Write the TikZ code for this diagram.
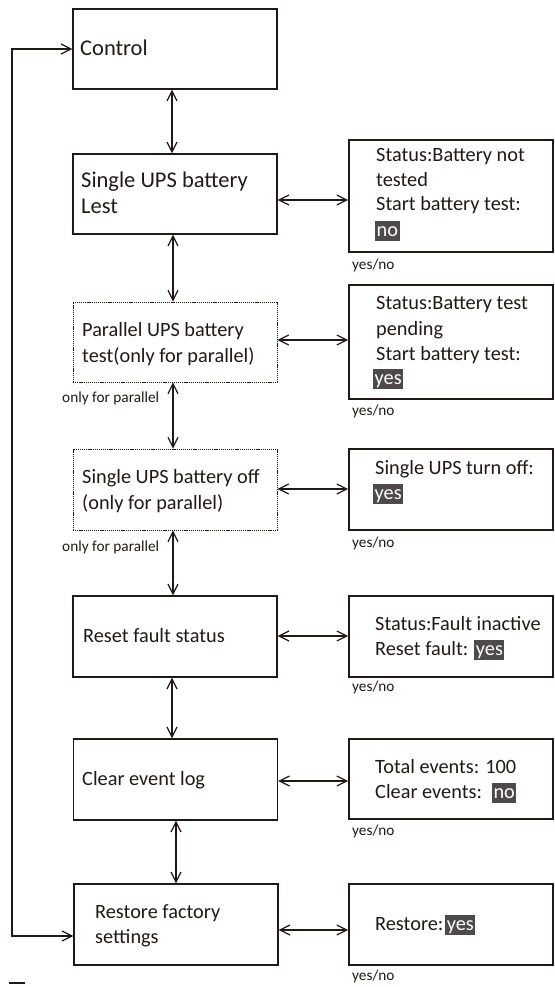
\documentclass[tikz,border=0pt]{standalone}
\usepackage{fontspec}
\setmainfont{Carlito}
\usetikzlibrary{arrows.meta}
\definecolor{lc}{RGB}{35,24,21}
\definecolor{hlg}{RGB}{77,74,73}
\newcommand\hlw[1]{{\setlength{\fboxsep}{0pt}\colorbox{hlg}{\rule[-5pt]{0pt}{20pt}\hspace{1.5pt}\textcolor{white}{#1}\hspace{1.5pt}}}}
\newcommand\bigfs{\fontsize{22.5}{27}\selectfont}
\newcommand\midfs{\fontsize{20.3}{24.8}\selectfont}
\newcommand\smallfs{\fontsize{15.3}{18}\selectfont}
\begin{document}
\begin{tikzpicture}[x=1pt,y=-1pt,
 lbox/.style={draw=lc,line width=1.3pt,minimum width=204pt,inner sep=0pt,rectangle},
 dbox/.style={draw=lc,line width=0.8pt,dash pattern=on 1.2pt off 0.9pt,minimum width=204pt,inner sep=0pt,rectangle},
 rbox/.style={draw=lc,line width=1.7pt,minimum width=204pt,inner sep=0pt,rectangle},
 txt/.style={anchor=base west,inner sep=0pt,font=\midfs,text=lc},
 btxt/.style={txt,font=\bigfs},
 stxt/.style={anchor=west,inner sep=0pt,font=\smallfs,text=lc},
 arr/.style={draw=lc,line width=1.2pt,{Straight Barb[length=10pt,width=10pt]}-{Straight Barb[length=10pt,width=10pt]}}
]
\useasboundingbox (0,0) rectangle (554,987);
% left boxes
\node[lbox,minimum height=80pt] (ctrl) at (175,49) {};
\node[lbox,minimum height=80pt] (b2) at (175,194) {};
\node[dbox,minimum height=80pt] (par) at (175,342) {};
\node[dbox,minimum height=81pt] (off) at (175,489.5) {};
\node[lbox,minimum height=81pt] (reset) at (175,636.5) {};
\node[lbox,minimum height=81pt] (clear) at (175.5,779.5) {};
\node[lbox,minimum height=81pt] (restore) at (176,924.5) {};
% right boxes
\node[rbox,minimum height=112pt] (r1) at (451,196) {};
\node[rbox,minimum height=114pt] (r2) at (451,342) {};
\node[rbox,minimum height=81pt] (r3) at (451,489.5) {};
\node[rbox,minimum height=81pt] (r4) at (451,636.5) {};
\node[rbox,minimum height=80pt] (r5) at (451,779) {};
\node[rbox,minimum height=81pt] (r6) at (451,924.5) {};
% left texts
\node[btxt] (t1) at (80,56) {Control};
\node[btxt] (t2a) at (81,187) {Single UPS battery};
\node[btxt] (t2b) at (81,213) {Lest};
\node[txt] (t3a) at (82,336) {Parallel UPS battery};
\node[txt] (t3b) at (82,362) {test(only for parallel)};
\node[txt] (t4a) at (82,483) {Single UPS battery off};
\node[txt] (t4b) at (82,509) {(only for parallel)};
\node[txt] (t5) at (83,642) {Reset fault status};
\node[txt] (t6) at (82,785) {Clear event log};
\node[txt] (t7a) at (95,918) {Restore factory};
\node[txt] (t7b) at (95,943) {settings};
% right texts
\node[txt] (s1a) at (376,162) {Status:Battery not};
\node[txt] (s1b) at (376,186) {tested};
\node[txt] (s1c) at (376,211) {Start battery test:};
\node[txt] (s1d) at (375,236) {\hlw{no}};
\node[txt] (s2a) at (376,309) {Status:Battery test};
\node[txt] (s2b) at (376,335) {pending};
\node[txt] (s2c) at (376,360) {Start battery test:};
\node[txt] (s2d) at (373,384) {\hlw{yes}};
\node[txt] (s3a) at (375,474) {Single UPS turn off:};
\node[txt] (s3b) at (373,499) {\hlw{yes}};
\node[txt] (s4a) at (375,630) {Status:Fault inactive};
\node[txt] (s4b) at (375,655) {Reset fault: \hlw{yes}};
\node[txt] (s5a) at (375,773) {Total events: 100};
\node[txt] (s5b) at (375,798) {Clear events: \hspace{4pt}\hlw{no}};
\node[txt] (s6) at (375,930) {Restore:\hspace{2pt}\hlw{yes}};
% small labels
\node[stxt] (y1) at (352,265) {yes/no};
\node[stxt] (y2) at (352,411) {yes/no};
\node[stxt] (y3) at (352,543) {yes/no};
\node[stxt] (y4) at (352,687) {yes/no};
\node[stxt] (y5) at (352,831) {yes/no};
\node[stxt] (y6) at (352,976) {yes/no};
\node[stxt] (p1) at (62,398) {only for parallel};
\node[stxt] (p2) at (62,547) {only for parallel};
% vertical arrows
\draw[arr] (ctrl.south -| 172,0) -- (b2.north -| 172,0);
\draw[arr] (b2.south -| 173,0) -- (par.north -| 173,0);
\draw[arr] (par.south -| 173,0) -- (off.north -| 173,0);
\draw[arr] (off.south -| 173,0) -- (reset.north -| 173,0);
\draw[arr] (reset.south -| 172,0) -- (clear.north -| 172,0);
\draw[arr] (clear.south -| 176,0) -- (restore.north -| 176,0);
% horizontal arrows
\draw[arr] (b2.east |- 0,200) -- (r1.west |- 0,200);
\draw[arr] (par.east |- 0,340) -- (r2.west |- 0,340);
\draw[arr] (off.east |- 0,489) -- (r3.west |- 0,489);
\draw[arr] (reset.east |- 0,636) -- (r4.west |- 0,636);
\draw[arr] (clear.east |- 0,781) -- (r5.west |- 0,781);
\draw[arr] (restore.east |- 0,930) -- (r6.west |- 0,930);
% loop
\coordinate (lp) at (12,500);
\draw[arr] (restore.west |- 0,936) -| (lp) |- (ctrl.west);
% small dash
\draw[lc,line width=1.3pt] (9,983) -- (25,983);
\end{tikzpicture}
\end{document}
